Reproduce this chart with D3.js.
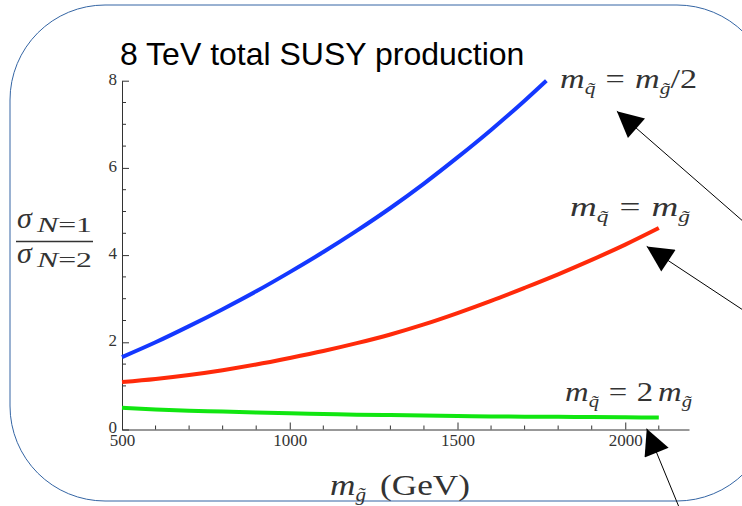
<!DOCTYPE html>
<html>
<head>
<meta charset="utf-8">
<script src="https://cdn.jsdelivr.net/npm/d3@7"></script>
<style>
  body { margin: 0; background: #fff; }
  text { font-family: "Liberation Serif", "DejaVu Serif", serif; }
</style>
</head>
<body>
<svg width="742" height="506"></svg>
<script>
// m_gluino (GeV) and sigma(N=1)/sigma(N=2)
var massHalf = [500, 600, 700, 800, 900, 1000, 1100, 1200, 1300, 1400, 1500, 1600, 1700, 1765];
var ratioHalf = [1.66, 2.00, 2.37, 2.76, 3.17, 3.61, 4.07, 4.56, 5.08, 5.64, 6.24, 6.87, 7.54, 8.0];

var massEqual = [500, 600, 700, 800, 900, 1000, 1100, 1200, 1300, 1400, 1500, 1600, 1700, 1800, 1900, 2000, 2100];
var ratioEqual = [1.09, 1.16, 1.25, 1.36, 1.49, 1.64, 1.80, 1.98, 2.18, 2.41, 2.67, 2.95, 3.25, 3.56, 3.89, 4.24, 4.62];

var massDouble = [500, 600, 700, 800, 900, 1000, 1100, 1200, 1300, 1400, 1500, 1600, 1700, 1800, 1900, 2000, 2100];
var ratioDouble = [0.50, 0.46, 0.43, 0.41, 0.39, 0.37, 0.355, 0.34, 0.33, 0.32, 0.31, 0.30, 0.295, 0.29, 0.285, 0.28, 0.275];

var xMajor = [500, 1000, 1500, 2000];
var xMinor = d3.range(600, 2101, 100);
var yMajor = [0, 2, 4, 6, 8];
var yMinor = d3.range(0.5, 8, 0.5);

var svg = d3.select("svg"),
    width = +svg.attr("width"),
    height = +svg.attr("height");

// rounded frame around the slide
svg.append("rect")
    .attr("x", 10).attr("y", 5)
    .attr("width", 762).attr("height", 496)
    .attr("rx", 95).attr("ry", 95)
    .attr("fill", "none")
    .attr("stroke", "#3465a4")
    .attr("stroke-width", 1);

var x = d3.scaleLinear().domain([500, 2190]).range([122, 689]);
var y = d3.scaleLinear().domain([0, 8]).range([429.5, 80.7]);

// minor ticks, pointing into the plot
svg.append("g").selectAll("line")
    .data(xMinor.filter(function(d) { return xMajor.indexOf(d) < 0; }))
    .enter().append("line")
    .attr("x1", function(d) { return x(d); }).attr("x2", function(d) { return x(d); })
    .attr("y1", y(0)).attr("y2", y(0) - 4)
    .attr("stroke", "#333");
svg.append("g").selectAll("line")
    .data(yMinor.filter(function(d) { return yMajor.indexOf(d) < 0; }))
    .enter().append("line")
    .attr("x1", x(500)).attr("x2", x(500) + 4)
    .attr("y1", function(d) { return y(d); }).attr("y2", function(d) { return y(d); })
    .attr("stroke", "#333");

svg.append("g")
    .attr("transform", "translate(0," + y(0) + ")")
    .call(d3.axisBottom(x).tickValues(xMajor).tickFormat(d3.format("d"))
      .tickSize(-7).tickSizeOuter(0).tickPadding(4));
var yAxis = svg.append("g")
    .attr("transform", "translate(" + x(500) + ",0)")
    .call(d3.axisLeft(y).tickValues(yMajor).tickSize(-7).tickSizeOuter(0).tickPadding(5));
yAxis.selectAll(".tick text").attr("dy", "0.2em");

svg.selectAll(".tick line").attr("stroke", "#333");
svg.selectAll(".domain").attr("stroke", "#333");
svg.selectAll(".tick text")
    .attr("font-family", "Liberation Serif")
    .attr("font-size", 17)
    .attr("fill", "#333");

var line = d3.line()
    .x(function(d) { return x(d[0]); })
    .y(function(d) { return y(d[1]); })
    .curve(d3.curveMonotoneX);

var series = [
  { m: massHalf, r: ratioHalf, color: "#1438ff" },
  { m: massEqual, r: ratioEqual, color: "#ff2a0a" },
  { m: massDouble, r: ratioDouble, color: "#11e611" }
];

svg.selectAll(".curve")
    .data(series)
    .enter().append("path")
    .attr("class", "curve")
    .attr("fill", "none")
    .attr("stroke", function(d) { return d.color; })
    .attr("stroke-width", 4)
    .attr("d", function(d) { return line(d3.zip(d.m, d.r)); });

// title
svg.append("text")
    .attr("x", 120).attr("y", 65)
    .style("font-family", "Liberation Sans")
    .attr("font-size", 32)
    .attr("fill", "#000")
    .text("8 TeV total SUSY production");

// curve labels  m_q~ = ...
function massLabel(tx, ty, len, parts) {
  var t = svg.append("text")
      .attr("x", tx).attr("y", ty)
      .attr("font-size", 27)
      .attr("fill", "#333")
      .attr("textLength", len)
      .attr("lengthAdjust", "spacingAndGlyphs");
  parts.forEach(function(p) {
    var s = t.append("tspan").text(p.t);
    if (p.it) s.attr("font-style", "italic");
    if (p.sub) s.attr("font-size", 17).attr("dy", 6);
    if (p.up) s.attr("dy", -6);
    if (p.dx) s.attr("dx", p.dx);
  });
  return t;
}
massLabel(560, 88, 137, [{t: "m", it: 1}, {t: "q\u0303", it: 1, sub: 1}, {t: "=", up: 1, dx: 8}, {t: "m", it: 1, dx: 8}, {t: "g\u0303", it: 1, sub: 1}, {t: "/2", up: 1}]);
massLabel(570, 216, 120, [{t: "m", it: 1}, {t: "q\u0303", it: 1, sub: 1}, {t: "=", up: 1, dx: 8}, {t: "m", it: 1, dx: 8}, {t: "g\u0303", it: 1, sub: 1}]);
massLabel(565, 401, 127, [{t: "m", it: 1}, {t: "q\u0303", it: 1, sub: 1}, {t: "=", up: 1, dx: 8}, {t: "2", dx: 8}, {t: "m", it: 1, dx: 4}, {t: "g\u0303", it: 1, sub: 1}]);

// x axis title
var xt = svg.append("text")
    .attr("x", 330).attr("y", 495)
    .attr("font-size", 30)
    .attr("fill", "#333")
    .attr("textLength", 140)
    .attr("lengthAdjust", "spacingAndGlyphs");
xt.append("tspan").attr("font-style", "italic").text("m");
xt.append("tspan").attr("font-style", "italic").attr("font-size", 18).attr("dy", 6).text("g\u0303");
xt.append("tspan").attr("dy", -6).attr("dx", 12).text("(GeV)");

// y axis title as a fraction
function sigma(ty, sub) {
  var t = svg.append("text").attr("x", 17).attr("y", ty).attr("font-size", 30).attr("fill", "#333");
  t.append("tspan").attr("font-style", "italic").text("\u03c3");
  var s = svg.append("text").attr("x", 37).attr("y", ty + 4).attr("font-size", 20).attr("fill", "#333")
    .attr("textLength", 55).attr("lengthAdjust", "spacingAndGlyphs");
  s.append("tspan").attr("font-style", "italic").text("N");
  s.append("tspan").text("=" + sub);
}
sigma(228, "1");
sigma(263, "2");
svg.append("line")
    .attr("x1", 16).attr("x2", 93)
    .attr("y1", 241.5).attr("y2", 241.5)
    .attr("stroke", "#333").attr("stroke-width", 1.3);

// arrows pointing at the labels, given in data units
var arrows = [
  { from: [2355, 4.75], to: [1975, 7.3] },
  { from: [2355, 2.72], to: [2064, 4.2] },
  { from: [2172, -2.0], to: [2064, 0.02] }
];
svg.append("defs").append("marker")
    .attr("id", "head")
    .attr("viewBox", "0 0 10 10")
    .attr("refX", 10).attr("refY", 5)
    .attr("markerWidth", 36).attr("markerHeight", 26)
    .attr("markerUnits", "userSpaceOnUse")
    .attr("orient", "auto")
  .append("path")
    .attr("d", "M0,0L10,5L0,10Z")
    .attr("fill", "#000");

svg.selectAll(".arrow")
    .data(arrows)
    .enter().append("line")
    .attr("class", "arrow")
    .attr("x1", function(d) { return x(d.from[0]); })
    .attr("y1", function(d) { return y(d.from[1]); })
    .attr("x2", function(d) { return x(d.to[0]); })
    .attr("y2", function(d) { return y(d.to[1]); })
    .attr("stroke", "#000")
    .attr("stroke-width", 1)
    .attr("marker-end", "url(#head)");
</script>
</body>
</html>
